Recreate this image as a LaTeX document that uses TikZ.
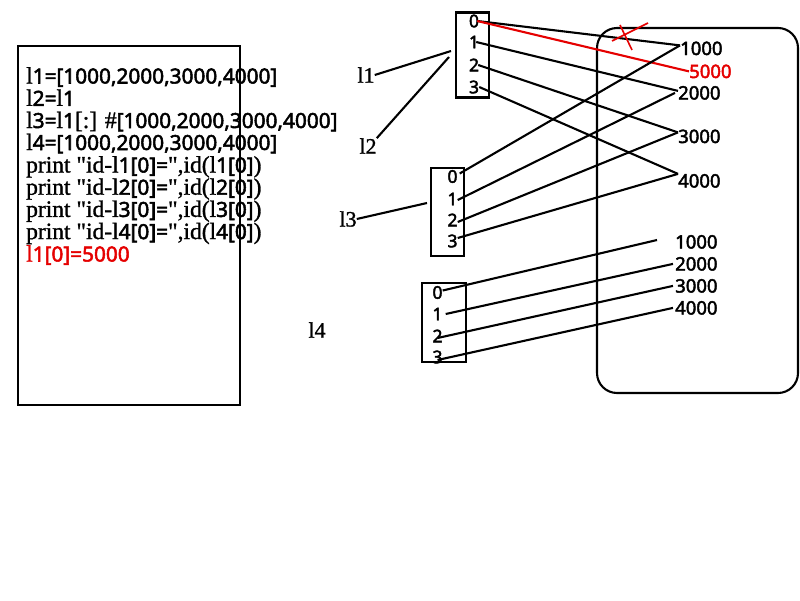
\documentclass[tikz,border=0pt]{standalone}
\usepackage{fontspec}
\setmainfont{Liberation Serif}[Ligatures=TeXOff, FakeBold=1.2]
\newfontfamily\dg{Noto Sans}[FakeBold=2.5]
\begin{document}
\begin{tikzpicture}[x=1pt,y=-1pt,
  ln/.style={line width=2.1pt},
  redln/.style={line width=2.1pt, draw=red!90!black},
  codeline/.style={anchor=base west, inner sep=0pt, font=\fontsize{23.5}{22}\selectfont},
  boxdigit/.style={inner sep=0pt, font=\dg\fontsize{17.5}{20}\selectfont},
  val/.style={anchor=base west, inner sep=0pt, font=\dg\fontsize{18.5}{20}\selectfont},
  lab/.style={inner sep=0pt, font=\fontsize{22}{22}\selectfont},
  arr/.style={draw, line width=2.1pt}
]
\newcommand\sd[1]{{\dg\fontsize{20.8}{22}\selectfont #1}}
\useasboundingbox (0,0) rectangle (800,600);
% code box
\node[arr, minimum width=222pt, minimum height=359pt, anchor=north west, inner sep=0pt] (code) at (17,45) {};
\node[codeline] (c1) at (26,83.5) {l\sd{1=[1000,2000,3000,4000]}};
\node[codeline] (c2) at (26,105.8) {l\sd{2=}l\sd{1}};
\node[codeline] (c3) at (26,128) {l\sd{3=}l\sd{1}[:] \#\sd{[1000,2000,3000,4000]}};
\node[codeline] (c4) at (26,150) {l\sd{4=[1000,2000,3000,4000]}};
\node[codeline] (c5) at (26,172.5) {print "id-l\sd{1[0]=}",id(l\sd{1[0]})};
\node[codeline] (c6) at (26,194.7) {print "id-l\sd{2[0]=}",id(l\sd{2[0]})};
\node[codeline] (c7) at (26,216.9) {print "id-l\sd{3[0]=}",id(l\sd{3[0]})};
\node[codeline] (c8) at (26,239.1) {print "id-l\sd{4[0]=}",id(l\sd{4[0]})};
\node[codeline, text=red!90!black] (c9) at (26,261.5) {l\sd{1[0]=5000}};
% memory area
\draw[ln, rounded corners=20pt] (597,28) rectangle (798,393);
% box A
\node[arr, minimum width=33pt, minimum height=85pt, inner sep=0pt] (A) at (472.5,55) {};
\node[boxdigit] (a0) at (474,21) {0};
\node[boxdigit] (a1) at (474,42) {1};
\node[boxdigit] (a2) at (474,65) {2};
\node[boxdigit] (a3) at (474,87) {3};
% box B
\node[arr, minimum width=33pt, minimum height=88pt, inner sep=0pt] (B) at (447.5,212) {};
\node[boxdigit] (b0) at (452.5,176.5) {0};
\node[boxdigit] (b1) at (452.5,199) {1};
\node[boxdigit] (b2) at (452.5,220) {2};
\node[boxdigit] (b3) at (452.5,241) {3};
% box C
\node[arr, minimum width=44pt, minimum height=79pt, inner sep=0pt] (C) at (444,322.5) {};
\node[boxdigit] (d0) at (437.5,292.5) {0};
\node[boxdigit] (d1) at (437.5,314) {1};
\node[boxdigit] (d2) at (437.5,336) {2};
\node[boxdigit] (d3) at (437.5,357) {3};
% labels
\node[lab] (l1) at (366,75) {l1};
\node[lab] (l2) at (368,146) {l2};
\node[lab] (l3) at (348,219) {l3};
\node[lab] (l4) at (317,330) {l4};
\coordinate (pA1) at (451,51);
\coordinate (pA2) at (449,57);
\coordinate (pB) at (427,203);
\draw[ln] (l1.east) -- (pA1);
\draw[ln] (l2.north east) -- (pA2);
\draw[ln] (l3.east) -- (pB);
% values upper
\node[val] (u1) at (680,55) {1000};
\node[val, text=red!90!black] (u5) at (689,78) {5000};
\node[val] (u2) at (678,99.5) {2000};
\node[val] (u3) at (678,143) {3000};
\node[val] (u4) at (678,187.5) {4000};
% values lower
\node[val] (w1) at (675,248.5) {1000};
\node[val] (w2) at (675,270.5) {2000};
\node[val] (w3) at (675,292.5) {3000};
\node[val] (w4) at (675,314.5) {4000};
\coordinate (e1) at (657,240);
% connectors box A
\draw[ln] ([xshift=-2pt]a0.east) -- ([yshift=3pt]u1.west);
\draw[redln] ([xshift=-2pt]a0.east) -- (u5.west);
\draw[ln] ([xshift=-3pt]a1.east) -- ([yshift=2pt]u2.west);
\draw[ln] ([xshift=-1pt]a2.east) -- ([yshift=4pt]u3.west);
\draw[ln] (a3.east) -- ([yshift=7pt]u4.west);
% cross
\coordinate (x1) at (612,41); \coordinate (x2) at (648,23);
\coordinate (x3) at (620,25); \coordinate (x4) at (632,50);
\draw[redln, line width=1.6pt] (x1) -- (x2);
\draw[redln, line width=1.6pt] (x3) -- (x4);
% connectors box B
\draw[ln] ([xshift=2pt,yshift=3pt]b0.east) -- ([yshift=3pt]u1.west);
\draw[ln] ([yshift=-1pt]b1.east) -- ([xshift=-3pt]u2.west);
\draw[ln] ([yshift=-2pt]b2.east) -- ([yshift=4pt]u3.west);
\draw[ln] ([yshift=3pt]b3.east) -- ([yshift=7pt]u4.west);
% connectors box C
\draw[ln] ([yshift=2pt]d0.east) -- (e1);
\draw[ln] ([xshift=3pt]d1.east) -- ([xshift=-2pt]w2.west);
\draw[ln] ([yshift=-2pt]d2.center) -- ([xshift=-2pt]w3.west);
\draw[ln] ([yshift=-3pt]d3.center) -- ([xshift=-2pt]w4.west);
\end{tikzpicture}
\end{document}
